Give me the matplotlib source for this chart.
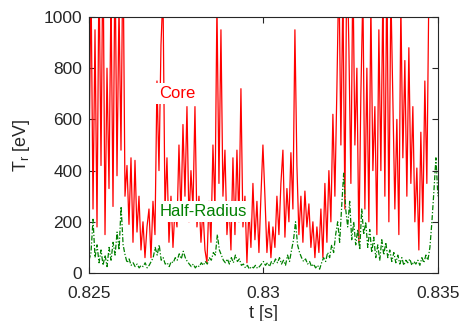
import numpy as np
import matplotlib.pyplot as plt

plt.rcParams['font.family'] = ['Liberation Sans', 'DejaVu Sans']
plt.rcParams['mathtext.fontset'] = 'custom'
plt.rcParams['mathtext.rm'] = 'Liberation Sans'
plt.rcParams['mathtext.it'] = 'Liberation Sans'

# core electron temperature T_r [eV] (record ends slightly before 0.835 s)
core = [430, 1150, 250, 950, 180, 1200, 420, 1300, 150, 800,
        330, 1100, 260, 1250, 380, 1050, 480, 1300, 300, 420,
        190, 450, 120, 440, 160, 300, 90, 200, 60, 180,
        250, 60, 280, 150, 750, 400, 890, 1100, 250, 450,
        120, 300, 100, 250, 180, 500, 220, 580, 300, 650,
        200, 400, 250, 650, 180, 300, 120, 250, 90,
        40, 280, 120, 500, 250, 1050, 350, 950, 300, 480,
        150, 280, 90, 450, 150, 480, 200, 720, 180, 300,
        40, 250, 100, 350, 130, 280, 80, 300, 500,
        300, 80, 200, 60, 180, 100, 300, 150, 350, 480,
        140, 330, 200, 470, 250, 950, 420, 150, 300, 120,
        320, 180, 270, 100, 200, 60, 180, 80, 250,
        60, 350, 120, 400, 200, 620, 300, 720, 1200, 500,
        1100, 250, 1300, 880, 350, 1200, 500, 800, 120, 700,
        1100, 250, 800, 200, 1050, 400, 650, 150, 950,
        400, 1100, 300, 1200, 200, 1100, 680, 250, 600, 150,
        1050, 450, 830, 300, 880, 350, 650, 200, 410, 90,
        550, 200, 750, 350, 1100]

# half-radius electron temperature T_r [eV]
half = [50, 80, 210, 60, 110, 40, 90, 30, 70, 25,
        100, 50, 120, 70, 160, 90, 260, 110, 70, 40,
        55, 30, 40, 25, 35, 20, 30, 25, 40, 20,
        30, 45, 60, 100, 70, 110, 50, 60, 35, 40,
        25, 45, 40, 60, 50, 75, 55, 85, 60, 45,
        35, 25, 35, 20, 30, 25, 40, 30, 45, 35,
        60, 50, 80, 70, 150, 90, 70, 50, 40, 55,
        35, 60, 40, 70, 45, 55, 30, 35, 20, 30,
        15, 25, 20, 30, 18, 25, 35, 45, 30, 40,
        25, 45, 35, 55, 40, 60, 35, 50, 30, 70,
        45, 90, 130, 200, 110, 80, 60, 45, 55, 35,
        45, 25, 35, 20, 30, 15, 40, 60, 45, 80,
        60, 110, 80, 150, 200, 120, 260, 390, 250, 180,
        280, 130, 200, 110, 170, 90, 250, 150, 200, 100,
        170, 80, 140, 60, 110, 50, 130, 70, 120, 60,
        90, 45, 80, 40, 70, 35, 60, 30, 50, 40,
        55, 30, 45, 35, 50, 30, 60, 40, 70, 50,
        100, 200, 320, 450, 300]

t_core = np.linspace(0.825, 0.83474, len(core))
t_half = np.linspace(0.825, 0.835, len(half))

fig = plt.figure(figsize=(4.6, 3.21), dpi=100)
ax = fig.add_axes([0.1935, 0.1495, 0.7585, 0.7975])

ax.plot(t_core, core, color='red', lw=0.9)
ax.plot(t_half, half, color='#008000', lw=0.9, ls=(0, (4, 1.5, 1, 1.5)))

box = dict(facecolor='white', edgecolor='none', pad=2)
ax.text(0.82752, 700, 'Core', color='red', fontsize=12,
        ha='center', va='center', bbox=box)
ax.text(0.82828, 240, 'Half-Radius', color='#008000', fontsize=12,
        ha='center', va='center', bbox=box)

ax.set_xlim(0.825, 0.835)
ax.set_ylim(0, 1000)
ax.set_xticks([0.825, 0.83, 0.835])
ax.set_xticklabels(['0.825', '0.83', '0.835'])
ax.set_yticks([0, 200, 400, 600, 800, 1000])
ax.tick_params(direction='in', top=True, right=True, length=4,
               labelsize=12.5, colors='#262626', pad=5)
ax.tick_params(axis='x', pad=9)
for s in ax.spines.values():
    s.set_color('#262626')
    s.set_linewidth(0.8)

ax.set_xlabel('t [s]', fontsize=13, color='#262626', labelpad=3)
ax.set_ylabel(r'T$_\mathregular{r}$ [eV]', fontsize=13, color='#262626', labelpad=8)

fig.savefig('out.png', dpi=100)
